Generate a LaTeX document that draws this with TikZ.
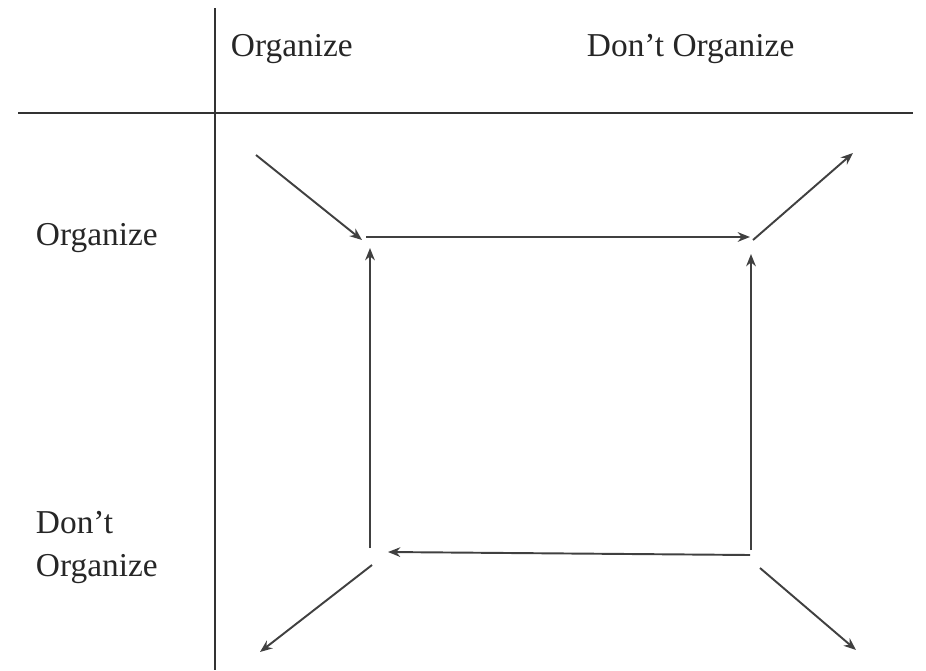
\documentclass[tikz,border=0pt]{standalone}
\usepackage{fontspec}
\setmainfont{Liberation Serif}
\usetikzlibrary{arrows.meta}

\begin{document}
\begin{tikzpicture}[x=0.02cm,y=-0.02cm,->,>={Stealth[length=7pt,width=5.5pt]},
                    line width=1.1pt,draw=black!75]
  \tikzstyle{head}=[anchor=base west,inner sep=0pt,font=\fontsize{19}{24}\selectfont,text=black!85]
  \useasboundingbox (0,0) rectangle (926,670);

  % table lines
  \draw[-,black!80,line width=0.9pt] (215,8) -- (215,670);
  \draw[-,black!80,line width=0.9pt] (18,113) -- (913,113);

  % labels
  \node[head] (ColOrg)  at (230,56) {Organize};
  \node[head] (ColDont) at (586,56) {Don’t Organize};
  \node[head] (RowOrg)  at (35,245) {Organize};
  \node[head,align=left] (RowDont) at (35,576) {Don’t\\Organize};

  % arrow end points
  \coordinate (In)   at (256,155);
  \coordinate (TL)   at (362,240);
  \coordinate (TLa)  at (366,237);
  \coordinate (TRa)  at (750,237);
  \coordinate (TR)   at (753,240);
  \coordinate (OutT) at (853,153);
  \coordinate (LB)   at (370,548);
  \coordinate (LT)   at (370,248);
  \coordinate (RB)   at (751,550);
  \coordinate (RT)   at (751,254);
  \coordinate (BR)   at (750,555);
  \coordinate (BL)   at (388,552);
  \coordinate (SL)   at (372,565);
  \coordinate (OutL) at (260,652);
  \coordinate (SR)   at (760,568);
  \coordinate (OutR) at (856,650);

  \path (In)  edge (TL)
        (TLa) edge (TRa)
        (TR)  edge (OutT)
        (LB)  edge (LT)
        (RB)  edge (RT)
        (BR)  edge (BL)
        (SL)  edge (OutL)
        (SR)  edge (OutR);
\end{tikzpicture}
\end{document}
